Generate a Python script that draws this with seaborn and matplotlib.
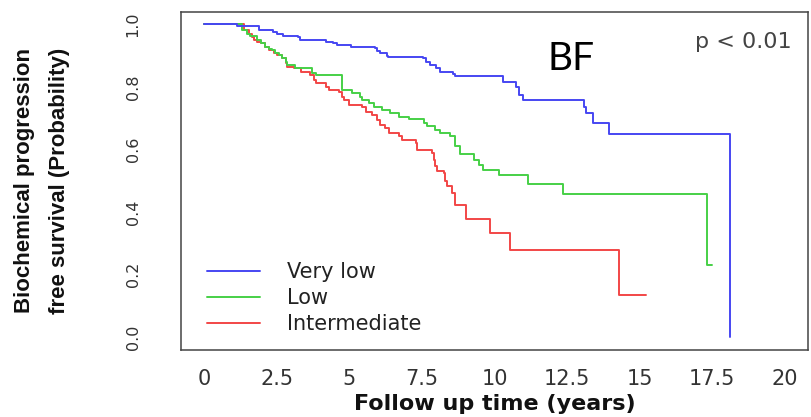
import numpy as np
import pandas as pd
import matplotlib
matplotlib.use("Agg")
import matplotlib.pyplot as plt
from matplotlib.lines import Line2D
import seaborn as sns

# ---- data ----
groups = ["Very low", "Low", "Intermediate"]

t_very_low = [0, 1.12, 1.87, 2.38, 2.50, 2.73, 3.24, 3.30, 4.16, 4.21, 4.44, 4.56, 5.07, 5.88,
              5.94, 6.05, 6.28, 6.33, 7.54, 7.65, 7.77, 8.00, 8.11, 8.57, 8.63, 10.29, 10.74,
              10.86, 10.97, 13.09, 13.15, 13.38, 13.95, 18.13]
s_very_low = [1.0, 0.994, 0.983, 0.976, 0.970, 0.962, 0.958, 0.951, 0.949, 0.944, 0.939, 0.935,
              0.928, 0.925, 0.915, 0.907, 0.899, 0.894, 0.891, 0.880, 0.870, 0.859, 0.848, 0.841,
              0.834, 0.817, 0.799, 0.774, 0.758, 0.737, 0.716, 0.684, 0.649, 0.0]

t_low = [0, 1.30, 1.47, 1.59, 1.82, 1.94, 2.11, 2.22, 2.34, 2.45, 2.57, 2.68, 2.80, 2.86, 3.14,
         3.72, 3.84, 4.75, 5.10, 5.38, 5.44, 5.67, 5.84, 6.13, 6.41, 6.70, 7.04, 7.56, 7.67,
         7.96, 8.13, 8.48, 8.65, 8.82, 9.31, 9.48, 9.60, 10.17, 11.15, 12.35, 17.33, 17.48]
s_low = [1.0, 0.980, 0.970, 0.962, 0.951, 0.940, 0.928, 0.922, 0.917, 0.907, 0.901, 0.891, 0.880,
         0.870, 0.859, 0.845, 0.838, 0.790, 0.779, 0.769, 0.758, 0.748, 0.737, 0.726, 0.716,
         0.705, 0.697, 0.684, 0.674, 0.663, 0.652, 0.642, 0.612, 0.585, 0.568, 0.552, 0.536,
         0.520, 0.490, 0.459, 0.230, 0.230]

t_intermediate = [0, 1.36, 1.53, 1.65, 1.70, 1.82, 1.94, 2.11, 2.22, 2.40, 2.51, 2.68, 2.80, 2.86,
                  3.09, 3.32, 3.66, 3.78, 3.84, 4.18, 4.30, 4.64, 4.75, 4.81, 4.98, 5.44, 5.56,
                  5.79, 5.96, 6.07, 6.24, 6.36, 6.70, 6.82, 7.28, 7.33, 7.85, 7.91, 7.96, 8.02,
                  8.25, 8.31, 8.36, 8.54, 8.65, 9.03, 9.83, 10.52, 14.30, 15.21]
s_intermediate = [1.0, 0.980, 0.970, 0.960, 0.951, 0.944, 0.939, 0.928, 0.917, 0.907, 0.901, 0.891,
                  0.875, 0.864, 0.859, 0.848, 0.838, 0.822, 0.811, 0.799, 0.790, 0.785, 0.769,
                  0.758, 0.742, 0.737, 0.721, 0.710, 0.694, 0.679, 0.668, 0.652, 0.642, 0.631,
                  0.620, 0.599, 0.589, 0.567, 0.546, 0.530, 0.525, 0.499, 0.483, 0.462, 0.424,
                  0.377, 0.334, 0.279, 0.136, 0.136]

x_ticks = [0, 2.5, 5, 7.5, 10, 12.5, 15, 17.5, 20]
x_tick_labels = ["0", "2.5", "5", "7.5", "10", "12.5", "15", "17.5", "20"]
y_ticks = [0.0, 0.2, 0.4, 0.6, 0.8, 1.0]
y_tick_labels = ["0.0", "0.2", "0.4", "0.6", "0.8", "1.0"]

colors = {"Very low": "#4646f2", "Low": "#46d046", "Intermediate": "#f24646"}

df = pd.concat([
    pd.DataFrame({"time": t_very_low, "surv": s_very_low, "group": "Very low"}),
    pd.DataFrame({"time": t_low, "surv": s_low, "group": "Low"}),
    pd.DataFrame({"time": t_intermediate, "surv": s_intermediate, "group": "Intermediate"}),
], ignore_index=True)

sns.set_style("white")
plt.rcParams["font.family"] = ["DejaVu Sans"]

fig = plt.figure(figsize=(8.11, 4.17), dpi=100)
ax = fig.add_axes([0.2232, 0.1607, 0.9963 - 0.2232, 0.972 - 0.1607])

sns.lineplot(data=df, x="time", y="surv", hue="group",
             hue_order=["Intermediate", "Low", "Very low"], palette=colors,
             drawstyle="steps-post", estimator=None, sort=False,
             linewidth=1.4, legend=False, ax=ax)

ax.set_xlim(-0.8, 20.8)
ax.set_ylim(-0.04, 1.04)
ax.set_xticks(x_ticks)
ax.set_xticklabels(x_tick_labels)
ax.set_yticks(y_ticks)
ax.set_yticklabels(y_tick_labels)

for sp in ax.spines.values():
    sp.set_visible(True)
    sp.set_color("#444444")
    sp.set_linewidth(1.1)

ax.tick_params(axis="both", direction="out", length=9, width=1.1, color="#444444",
               labelcolor="#333333", labelsize=15)
ax.tick_params(axis="x", pad=5)
ax.tick_params(axis="y", labelsize=11.5, labelrotation=90, pad=20)
for lab in ax.get_yticklabels():
    lab.set_va("center")

ax.set_xlabel("Follow up time (years)", fontsize=16, fontweight="bold", color="#111111")
ax.xaxis.set_label_coords(0.5, -0.131)
ax.xaxis.label.set_va("top")

ax.set_ylabel("Biochemical progression\nfree survival (Probability)", fontsize=16,
              fontweight="bold", family="Liberation Sans", color="#111111", linespacing=1.85)
ax.yaxis.label.set_va("center")
ax.yaxis.set_label_coords(-0.2217, 0.5)

handles = [Line2D([0], [0], color=colors[g], lw=1.4) for g in groups]
ax.legend(handles, groups, loc="center left", bbox_to_anchor=(0.041, 0.153),
          frameon=False, fontsize=15, handlelength=2.55, handletextpad=1.3,
          labelspacing=0.3, borderpad=0, borderaxespad=0,
          labelcolor="#222222")

ax.text(0.974, 0.91, "p < 0.01", transform=ax.transAxes, ha="right", va="center",
        fontsize=16, color="#444444")
ax.text(0.622, 0.86, "BF", transform=ax.transAxes, ha="center", va="center",
        fontsize=28, family="Lato", color="black")

fig.savefig("out.png", dpi=100)
